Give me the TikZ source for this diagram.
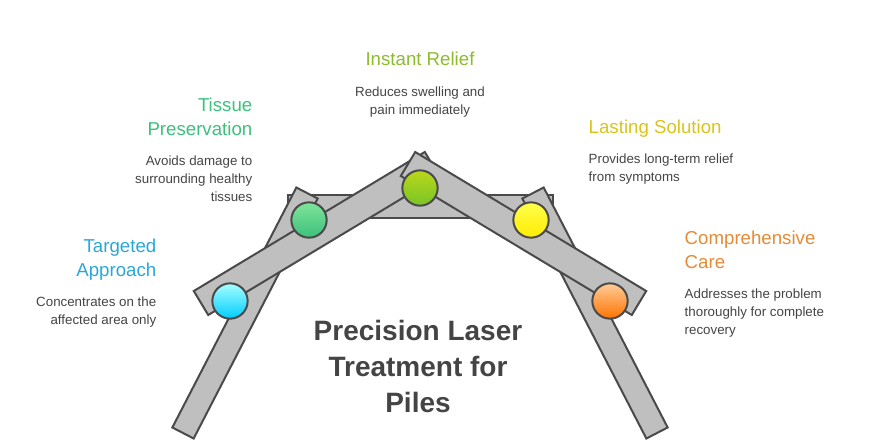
\documentclass[tikz,border=0pt]{standalone}
\usepackage{fontspec}
\setmainfont{Liberation Sans}
\usetikzlibrary{calc}
\definecolor{barfill}{HTML}{BFBFBF}
\definecolor{barline}{HTML}{4A4A4A}
\definecolor{txt}{HTML}{444444}
\definecolor{cblue}{HTML}{2AA7D8}
\definecolor{cgreen}{HTML}{3CC07C}
\definecolor{clime}{HTML}{8DBB2E}
\definecolor{cyellow}{HTML}{D8C41A}
\definecolor{corange}{HTML}{E58A35}
\tikzset{
  bar/.style={fill=barfill,draw=barline,line width=1.5pt,line join=miter},
  dot/.style={circle,minimum size=26.5pt,inner sep=0pt,draw=barline,line width=1.5pt},
  head/.style={font=\fontsize{14}{18}\selectfont},
  desc/.style={font=\fontsize{10}{13.5}\selectfont,text=txt},
}
\newcommand\plank[3]{\draw[bar] ($(#1)!#3!90:(#2)$) -- ($(#1)!#3!-90:(#2)$) -- ($(#2)!#3!90:(#1)$) -- ($(#2)!#3!-90:(#1)$) -- cycle;}
\begin{document}
\begin{tikzpicture}[x=0.75pt,y=-0.75pt]
\useasboundingbox (0,0) rectangle (870,446);
% frame
\coordinate (ll1) at (183,433); \coordinate (ll2) at (307,193);
\coordinate (rl1) at (657,433); \coordinate (rl2) at (533,193);
\coordinate (la1) at (201,303); \coordinate (la2) at (432,164);
\coordinate (ra1) at (639,303); \coordinate (ra2) at (408,164);
\draw[bar] (288,195) rectangle (553,218);
\plank{ll1}{ll2}{9pt}
\plank{rl1}{rl2}{9pt}
\plank{la1}{la2}{10.5pt}
\plank{ra1}{ra2}{10.5pt}
% dots
\node[dot,top color=cyan!35,bottom color=cyan!80!blue] (d1) at (230,301) {};
\node[dot,top color=green!30!cgreen!60,bottom color=cgreen] (d2) at (309,220) {};
\node[dot,top color=clime!60!yellow,bottom color=clime!85!green] (d3) at (420,188) {};
\node[dot,top color=yellow!70,bottom color=yellow!85!orange] (d4) at (531,220) {};
\node[dot,top color=orange!40,bottom color=orange!90!red] (d5) at (610,301) {};
% title
\node[font=\fontsize{21}{27}\selectfont\bfseries,text=txt,align=center] (title) at (418,366)
  {Precision Laser\\Treatment for\\Piles};
% labels
\node[head,text=clime,anchor=north] (h3) at (420,47) {Instant Relief};
\node[desc,align=center,anchor=north] (t3) at (420,82) {Reduces swelling and\\pain immediately};
\node[head,text=cgreen,align=right,anchor=north east] (h2) at (257,93) {Tissue\\Preservation};
\node[desc,align=right,anchor=north east] (t2) at (257,151) {Avoids damage to\\surrounding healthy\\tissues};
\node[head,text=cblue,align=right,anchor=north east] (h1) at (161,234) {Targeted\\Approach};
\node[desc,align=right,anchor=north east] (t1) at (161,292) {Concentrates on the\\affected area only};
\node[head,text=cyellow,anchor=north west] (h4) at (584,115) {Lasting Solution};
\node[desc,align=left,anchor=north west] (t4) at (584,149) {Provides long-term relief\\from symptoms};
\node[head,text=corange,align=left,anchor=north west] (h5) at (680,226) {Comprehensive\\Care};
\node[desc,align=left,anchor=north west] (t5) at (680,284) {Addresses the problem\\thoroughly for complete\\recovery};
\end{tikzpicture}
\end{document}
